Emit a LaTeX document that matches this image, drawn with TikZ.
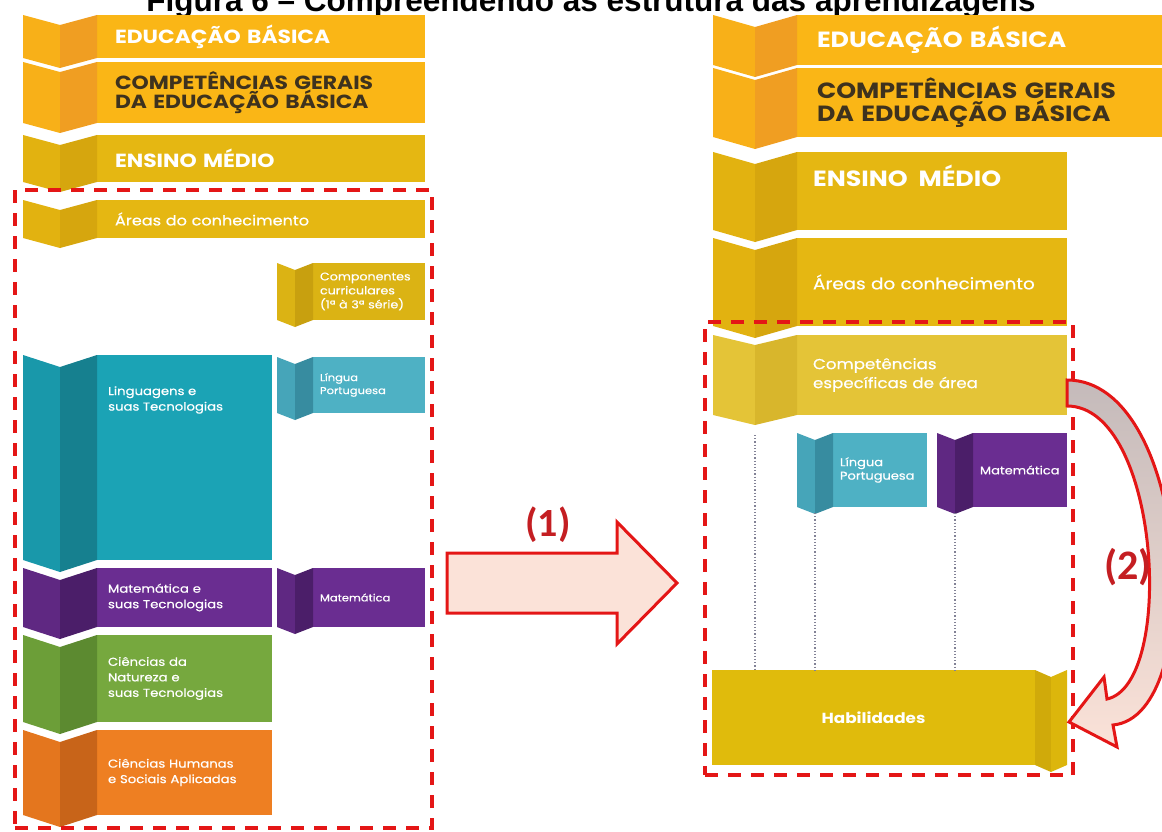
\documentclass[tikz,border=0pt]{standalone}
\usepackage{fontspec}
\setmainfont{Poppins}[FakeStretch=1.15]
\newfontfamily\labfont{Poppins}[FakeStretch=1.15, FakeBold=0.6]
\newfontfamily\titlefont{Liberation Sans}
\newfontfamily\markfont{Carlito}
\usetikzlibrary{calc,positioning}

\definecolor{eduA}{RGB}{250,182,22}
\definecolor{eduB}{RGB}{240,158,34}
\definecolor{eduC}{RGB}{248,176,24}
\definecolor{ensA}{RGB}{229,183,18}
\definecolor{ensB}{RGB}{214,166,14}
\definecolor{ensC}{RGB}{226,178,16}
\definecolor{cmpA}{RGB}{219,179,20}
\definecolor{cmpB}{RGB}{200,160,15}
\definecolor{espA}{RGB}{228,196,55}
\definecolor{espB}{RGB}{216,182,44}
\definecolor{habA}{RGB}{224,187,12}
\definecolor{habB}{RGB}{208,170,10}
\definecolor{habC}{RGB}{220,182,12}
\definecolor{lingA}{RGB}{27,163,181}
\definecolor{lingB}{RGB}{22,128,143}
\definecolor{lingC}{RGB}{25,152,170}
\definecolor{lpA}{RGB}{78,177,196}
\definecolor{lpB}{RGB}{55,140,160}
\definecolor{lpC}{RGB}{70,165,185}
\definecolor{matA}{RGB}{106,45,145}
\definecolor{matB}{RGB}{75,30,105}
\definecolor{matC}{RGB}{95,40,130}
\definecolor{natA}{RGB}{118,168,62}
\definecolor{natB}{RGB}{92,138,48}
\definecolor{natC}{RGB}{108,158,56}
\definecolor{humA}{RGB}{238,127,34}
\definecolor{humB}{RGB}{200,100,25}
\definecolor{humC}{RGB}{228,118,30}
\definecolor{txtdark}{RGB}{62,50,30}
\definecolor{dashred}{RGB}{228,22,22}
\definecolor{numred}{RGB}{196,30,34}
\definecolor{arrowfill}{RGB}{251,226,216}
\definecolor{arrowgray}{RGB}{196,186,186}
\definecolor{dotgray}{RGB}{130,130,150}

\tikzset{
  band/.style = {
    rectangle,
    fill = #1,
    anchor = north west,
    inner ysep = 0pt,
    outer sep = 0pt,
    align = left,
    text = white
  }
  , % headings of the long bands
  head-s/.style = {
    font = \bfseries\fontsize{19}{19}\selectfont
  }
  ,
  head-l/.style = {
    font = \bfseries\fontsize{22}{21}\selectfont
  }
  , % names of areas
  area-s/.style = {
    font = \labfont\fontsize{14}{16}\selectfont
  }
  ,
  area-l/.style = {
    font = \labfont\fontsize{16}{18}\selectfont
  }
  ,
  esp/.style = {
    font = \labfont\fontsize{14.5}{19}\selectfont
  }
  ,
  lab/.style = {
    font = \labfont\fontsize{11.5}{15.5}\selectfont
  }
  , % names of components
  sub-s/.style = {
    font = \labfont\fontsize{10}{13}\selectfont
  }
  ,
  sub-l/.style = {
    font = \labfont\fontsize{11.3}{13.5}\selectfont
  }
  ,
  dashbox/.style = {
    rectangle,
    draw = dashred,
    line width = 4pt,
    dash pattern = on 13pt off 10pt,
    anchor = north west,
    inner sep = 0pt,
    outer sep = 0pt
  }
  ,
  dotline/.style = {
    draw = dotgray,
    line width = 1.2pt,
    dotted
  }
  ,
  bigarrow/.style = {
    draw = dashred,
    line width = 3pt,
    line join = miter,
    fill = arrowfill
  }
  , % the numbers (1) and (2)
  numlabel/.style = {
    font = \markfont\bfseries\fontsize{40}{40}\selectfont,
    text = numred
  }
}

% two folded flaps on the left of a band
\newcommand{\foldleft}[5]{%
  \fill[#2] ($(#1.north west)+(-2*#4,0)$) -- ($(#1.north west)+(-#4,#5)$)
    -- ($(#1.south west)+(-#4,#5)$) -- ($(#1.south west)+(-2*#4,0)$) -- cycle;
  \fill[#3] ($(#1.north west)+(-#4,#5)$) -- (#1.north west)
    -- (#1.south west) -- ($(#1.south west)+(-#4,#5)$) -- cycle;
}
% two folded flaps on the right of a band
\newcommand{\foldright}[5]{%
  \fill[#2] (#1.north east) -- ($(#1.north east)+(#4,#5)$)
    -- ($(#1.south east)+(#4,#5)$) -- (#1.south east) -- cycle;
  \fill[#3] ($(#1.north east)+(#4,#5)$) -- ($(#1.north east)+(2*#4,0)$)
    -- ($(#1.south east)+(2*#4,0)$) -- ($(#1.south east)+(#4,#5)$) -- cycle;
}

\begin{document}
\begin{tikzpicture}[x=1pt, y=-1pt]
  \useasboundingbox (0,0) rectangle (1162,832);
  \node [anchor=base, font=\titlefont\bfseries\fontsize{31.5}{31.5}\selectfont] (title) at (591,12)
    {Figura 6 – Compreendendo as estrutura das aprendizagens};

  % left column
  \node [band=eduA, head-s, inner xsep=18pt, text width=292pt, minimum height=43pt] (eduL) at (97,15) {EDUCAÇÃO BÁSICA};
  \foldleft{eduL}{eduC}{eduB}{37}{10}
  \node [band=eduA, head-s, text=txtdark, inner xsep=18pt, text width=292pt, minimum height=61pt] (cgL) at (97,62)
    {COMPETÊNCIAS GERAIS\\DA EDUCAÇÃO BÁSICA};
  \foldleft{cgL}{eduC}{eduB}{37}{10}
  \node [band=ensA, head-s, inner xsep=18pt, text width=292pt, minimum height=47pt] (ensL) at (97,135) {ENSINO MÉDIO};
  \foldleft{ensL}{ensC}{ensB}{37}{10}
  \node [band=ensA, area-s, inner xsep=18pt, text width=292pt, minimum height=38pt] (areL) at (97,200) {Áreas do conhecimento};
  \foldleft{areL}{ensC}{ensB}{37}{10}

  \node [band=cmpA, sub-s, font=\labfont\fontsize{11}{14}\selectfont, inner xsep=7pt, text width=98pt,
    minimum height=57pt] (cmpL) at (313,263) {Componentes\\curriculares\\(1ª à 3ª série)};
  \foldleft{cmpL}{cmpA}{cmpB}{18}{7}

  \node [band=lingA, inner xsep=11pt, text width=153pt, minimum height=205pt] (lingL) at (97,355) {};
  \foldleft{lingL}{lingC}{lingB}{37}{12}
  \node [lab, text=white, align=left, inner sep=0pt, anchor=west] (lingT) at ($(lingL.north west)+(11,45)$)
    {Linguagens e\\suas Tecnologias};
  \node [band=lpA, sub-s, inner xsep=7pt, text width=98pt, minimum height=56pt] (lpL) at (313,357) {Língua\\Portuguesa};
  \foldleft{lpL}{lpC}{lpB}{18}{7}

  \node [band=matA, lab, inner xsep=11pt, text width=153pt, minimum height=59pt] (matL) at (97,568)
    {Matemática e\\suas Tecnologias};
  \foldleft{matL}{matC}{matB}{37}{12}
  \node [band=matA, sub-s, inner xsep=7pt, text width=98pt, minimum height=59pt] (mtL) at (313,568) {Matemática};
  \foldleft{mtL}{matC}{matB}{18}{7}

  \node [band=natA, lab, inner xsep=11pt, text width=153pt, minimum height=87pt] (natL) at (97,635)
    {Ciências da\\Natureza e\\suas Tecnologias};
  \foldleft{natL}{natC}{natB}{37}{12}
  \node [band=humA, lab, inner xsep=11pt, text width=153pt, minimum height=85pt] (humL) at (97,730)
    {Ciências Humanas\\e Sociais Aplicadas};
  \foldleft{humL}{humC}{humB}{37}{12}

  % right column
  \node [band=eduA, head-l, inner xsep=20pt, text width=340pt, minimum height=50pt] (eduR) at (797,15) {EDUCAÇÃO BÁSICA};
  \foldleft{eduR}{eduC}{eduB}{42}{12}
  \node [band=eduA, head-l, text=txtdark, inner xsep=20pt, text width=340pt, minimum height=69pt] (cgR) at (797,68)
    {COMPETÊNCIAS GERAIS\\DA EDUCAÇÃO BÁSICA};
  \foldleft{cgR}{eduC}{eduB}{42}{12}
  \node [band=ensA, inner xsep=16pt, text width=238pt, minimum height=78pt] (ensR) at (797,152) {};
  \foldleft{ensR}{ensC}{ensB}{42}{12}
  \node [head-l, text=white, inner sep=0pt, anchor=base west] (ensT) at ($(ensR.north west)+(16,34)$) {ENSINO\ \ MÉDIO};
  \node [band=ensA, area-l, inner xsep=16pt, text width=238pt, minimum height=88pt] (areR) at (797,238) {Áreas do conhecimento};
  \foldleft{areR}{ensC}{ensB}{42}{12}
  \node [band=espA, esp, inner xsep=16pt, text width=238pt, minimum height=80pt] (espR) at (797,335)
    {Competências\\específicas de área};
  \foldleft{espR}{espA}{espB}{42}{10}

  \node [band=lpA, sub-l, inner xsep=7pt, text width=80pt, minimum height=74pt] (lpR) at (833,433) {Língua\\Portuguesa};
  \foldleft{lpR}{lpC}{lpB}{18}{7}
  \node [band=matA, sub-l, inner xsep=7pt, text width=80pt, minimum height=74pt] (mtR) at (973,433) {Matemática};
  \foldleft{mtR}{matC}{matB}{18}{7}

  \node [band=habA, align=center, font=\bfseries\fontsize{14.6}{16}\selectfont, inner xsep=0pt, text width=323pt,
    minimum height=95pt] (habR) at (712,670) {Habilidades};
  \foldright{habR}{habB}{habC}{16}{7}

  \draw [dotline] ($(espR.south west)+(-42,20)$) coordinate (d1) -- (d1 |- habR.north);
  \draw [dotline] ($(lpR.south west)+(-18,6)$) coordinate (d2) -- (d2 |- habR.north);
  \draw [dotline] ($(mtR.south west)+(-18,6)$) coordinate (d3) -- (d3 |- habR.north);

  % dashed frames
  \node [dashbox, minimum width=417pt, minimum height=638pt] (leftbox) at (15,190) {};
  \node [dashbox, minimum width=368pt, minimum height=453pt] (rightbox) at (705,322) {};

  % (1) from left frame to right frame
  \coordinate (a1) at ($(leftbox.east)+(15,74)$);
  \draw [bigarrow] (a1) ++(0,-30) -- ++(170,0) -- ++(0,-31) -- ++(60,61) -- ++(-60,61) -- ++(0,-31)
    -- ++(-170,0) -- cycle;
  \node [numlabel] (m1) at ($(a1)+(101,-58)$) {(1)};

  % (2) from competencias to habilidades
  \coordinate (a2) at ($(espR.east)+(0,18)$);
  \begin{scope}[shift={(a2)}]
    \draw [bigarrow, top color=arrowgray, bottom color=arrowfill]
      (0,-13) .. controls (123,-13) and (142,323) .. (46,332) -- (50,354) -- (2,329) -- (37,284)
      -- (40,306) .. controls (109,291) and (93,13) .. (0,13) -- cycle;
  \end{scope}
  \node [numlabel, font=\markfont\bfseries\fontsize{42}{42}\selectfont] (m2) at ($(a2)+(61,174)$) {(2)};
\end{tikzpicture}
\end{document}
